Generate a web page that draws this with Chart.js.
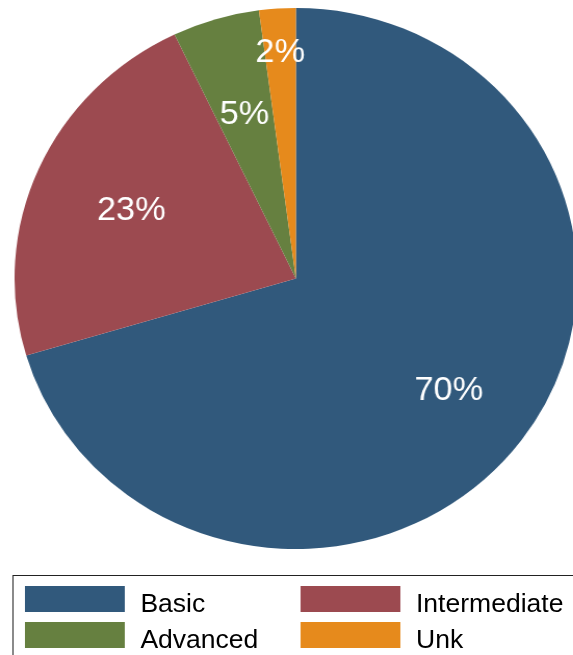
<!DOCTYPE html>
<html>
<head>
<meta charset="utf-8">
<script src="https://cdn.jsdelivr.net/npm/chart.js@4.4.1/dist/chart.umd.min.js"></script>
<style>
    html, body { margin: 0; padding: 0; background: #fff; overflow: hidden; }
    body { width: 573px; height: 655px; position: relative; }
    #wrap {
        position: absolute; left: 0; top: 0;
        width: 560px; height: 655px;
        transform: scaleX(1.04); transform-origin: 0 0;
    }
    #pie_box { position: absolute; left: 0; top: 0; width: 560px; height: 560px; }
    #legend_box {
        position: absolute; left: 12px; top: 575px; width: 600px; height: 100px;
        border: 1px solid #222; box-sizing: border-box;
        font-family: "Liberation Sans", Arial, sans-serif; font-size: 25.5px; color: #000;
    }
    .swatch { position: absolute; width: 96px; height: 26px; }
    .legend_text { position: absolute; line-height: 26px; white-space: nowrap; }
</style>
</head>
<body>
<div id="wrap">
    <div id="pie_box"><canvas id="grafico"></canvas></div>
    <div id="legend_box"></div>
</div>
<script>
const categorias = ['Basic', 'Intermediate', 'Advanced', 'Unk'];
const valores = [70.4, 22.5, 5.0, 2.1];
const rotulos = ['70%', '23%', '5%', '2%'];
const cores = ['#31597c', '#9c4a50', '#668040', '#e68a1c'];

// distancia do rotulo ao centro, em fracao do raio
const distRotulo = [0.678, 0.64, 0.642, 0.846];

const pluginRotulos = {
    id: 'rotulos',
    afterDatasetsDraw(chart) {
        const ctx = chart.ctx;
        const arcs = chart.getDatasetMeta(0).data;
        const tam = 33;
        ctx.save();
        ctx.fillStyle = '#ffffff';
        ctx.font = tam + 'px "Liberation Sans", Arial, sans-serif';
        ctx.textAlign = 'center';
        ctx.textBaseline = 'alphabetic';
        for (let i = 0; i < arcs.length; i++) {
            const arc = arcs[i];
            const meio = (arc.startAngle + arc.endAngle) / 2;
            const r = arc.outerRadius * distRotulo[i];
            const x = arc.x + Math.cos(meio) * r;
            const y = arc.y + Math.sin(meio) * r;
            ctx.fillText(rotulos[i], x, y + tam * 0.358);
        }
        ctx.restore();
    }
};

const grafico = new Chart(document.getElementById('grafico'), {
    type: 'pie',
    data: {
        labels: categorias,
        datasets: [{
            data: valores,
            backgroundColor: cores,
            borderWidth: 0,
            hoverOffset: 0
        }]
    },
    options: {
        responsive: true,
        maintainAspectRatio: false,
        animation: false,
        layout: { padding: { left: 14, right: 5, top: 8, bottom: 11 } },
        plugins: {
            legend: { display: false },
            tooltip: { enabled: false }
        }
    },
    plugins: [pluginRotulos]
});

// legenda em duas colunas
const legenda = document.getElementById('legend_box');
const colX = [11, 276];
const linhaY = [10, 46];
for (let i = 0; i < categorias.length; i++) {
    const col = i % 2;
    const lin = Math.floor(i / 2);
    const sw = document.createElement('div');
    sw.className = 'swatch';
    sw.style.left = colX[col] + 'px';
    sw.style.top = linhaY[lin] + 'px';
    sw.style.background = cores[i];
    legenda.appendChild(sw);

    const txt = document.createElement('div');
    txt.className = 'legend_text';
    txt.style.left = (colX[col] + 111) + 'px';
    txt.style.top = (linhaY[lin] + 4) + 'px';
    txt.textContent = categorias[i];
    legenda.appendChild(txt);
}
</script>
</body>
</html>
